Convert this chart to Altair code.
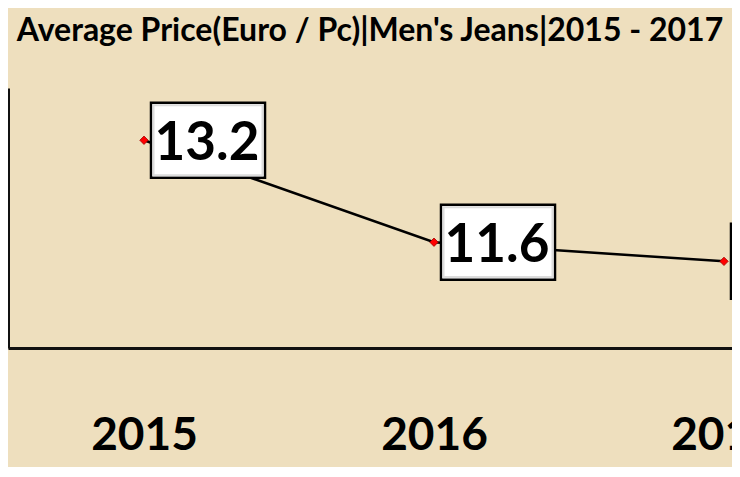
import altair as alt
import pandas as pd

years = [2015, 2016, 2017]
prices = [13.2, 11.6, 11.3]
title_text = "Average Price(Euro / Pc)|Men's Jeans|2015 - 2017"

df = pd.DataFrame({"year": years, "price": prices})
tdf = pd.DataFrame({"t": [title_text]})

FONT = "Lato"

x = alt.X(
    "year:Q",
    scale=alt.Scale(domain=[2014.531, 2017.0276], nice=False, zero=False),
    axis=alt.Axis(
        values=years, format="d", title=None, ticks=False, tickSize=0,
        labelPadding=101, labelBaseline="alphabetic", labelFont=FONT,
        labelFontWeight="bold", labelFontSize=46, labelColor="black",
        labelFlush=False, labelOverlap=False, domainColor="#111111",
        domainWidth=3, grid=False,
    ),
)
y = alt.Y(
    "price:Q",
    scale=alt.Scale(domain=[9.94, 14.02], nice=False, zero=False),
    axis=alt.Axis(title=None, labels=False, ticks=False, grid=False,
                  domainColor="#111111", domainWidth=3),
)

base = alt.Chart(df).encode(x=x, y=y)

line = base.mark_line(color="black", strokeWidth=2.5)
pts = base.mark_point(shape="diamond", filled=True, fill="#ff0000",
                      stroke="#a00000", strokeWidth=0.8,
                      size=70, opacity=1)
box = base.mark_point(
    shape="M-1,-0.658L1,-0.658L1,0.658L-1,0.658Z", size=12996,
    filled=True, fill="white", fillOpacity=1, stroke="black",
    strokeWidth=2.5, opacity=1, xOffset=64,
)
inner = base.mark_point(
    shape="M-1,-0.64L1,-0.64L1,0.64L-1,0.64Z", size=11881,
    filled=False, fill="white", fillOpacity=0, stroke="#dcdcdc",
    strokeWidth=2, opacity=1, xOffset=64,
)
txt = base.mark_text(
    font=FONT, fontWeight="bold", fontSize=53, color="black",
    align="center", baseline="alphabetic", dx=63, dy=20,
).encode(text=alt.Text("price:Q", format=".1f"))

title = alt.Chart(tdf).mark_text(
    font=FONT, fontWeight="bold", fontSize=32, color="black",
    align="center", baseline="alphabetic",
).encode(text="t:N", x=alt.value(362), y=alt.value(-47))

chart = alt.layer(line, pts, box, inner, txt, title).properties(
    width=724, height=260,
    padding={"left": 0, "top": 80, "right": 0, "bottom": 119},
    autosize=alt.AutoSizeParams(type="none"),
    background="#EEDFBE",
).configure_view(strokeWidth=0)

chart.save("out.html", embed_options={"renderer": "svg", "actions": False})
